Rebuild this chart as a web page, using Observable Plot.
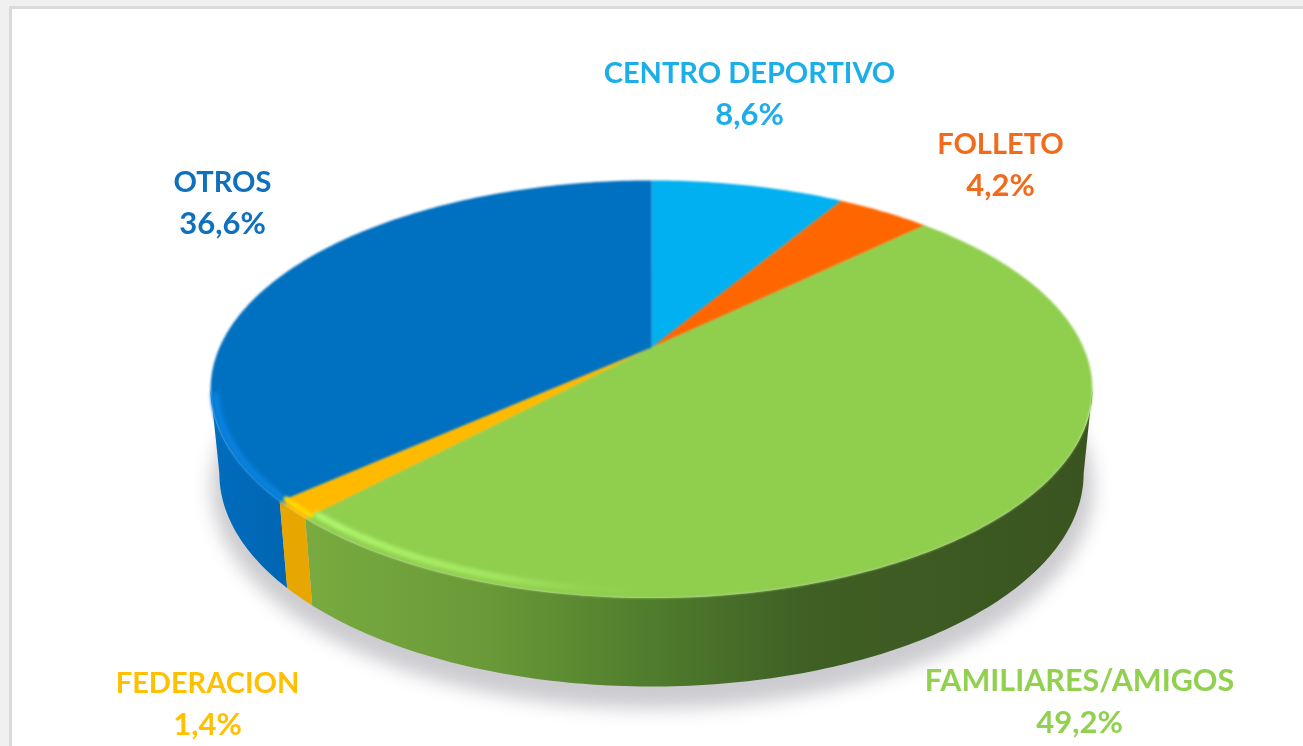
<!DOCTYPE html>
<html lang="es">
<head>
<meta charset="utf-8">
<script src="https://cdn.jsdelivr.net/npm/d3@7"></script>
<script src="https://cdn.jsdelivr.net/npm/@observablehq/plot@0.6"></script>
<style>
html,body{margin:0;padding:0;background:#f0f0f0;overflow:hidden;width:1303px;height:746px}
#frame{position:absolute;left:9px;top:6px;right:-5px;bottom:-5px;background:#fff;border:3px solid #dadada;box-sizing:border-box}
#chart{position:absolute;left:0;top:0}
</style>
</head>
<body>
<div id="frame"></div>
<div id="chart"></div>
<script>
// Data, in clockwise order from twelve o'clock
const categories = ["CENTRO DEPORTIVO", "FOLLETO", "FAMILIARES/AMIGOS", "FEDERACION", "OTROS"];
const shares = [8.6, 4.2, 49.2, 1.4, 36.6];
const shareLabels = ["8,6%", "4,2%", "49,2%", "1,4%", "36,6%"];
const colors = ["#00B0F0", "#FF6600", "#90CF4E", "#FFBA00", "#0070C0"];
const labelColors = ["#1CAEE8", "#F26A1B", "#92D050", "#FFC000", "#0F70BE"];

// Perspective of the pie
const K = 0.2;
const topRing = {cx: 651, cy: 347, a: 432, b: 200.5};
const baseRing = {cx: 651, cy: 430.4, a: 423.4, b: 204.5};
const shadowRing = {cx: 652, cy: 442, a: 432, b: 213};
// The rim's outline turns back where cos(angle) = -K: the sides are only seen between those two turning points
const turnRight = Math.acos(-K) / (2 * Math.PI) * 100;
const turnLeft = 100 - turnRight;

function pt(ring, pct, r = 1) {
  const t = pct / 100 * 2 * Math.PI, u = r * Math.sin(t), v = -r * Math.cos(t), w = 1 - K * v;
  return {x: ring.cx + ring.a * u / w, y: ring.cy + ring.b * v / w};
}
function arc(ring, p0, p1, r = 1) {
  const out = [], n = Math.max(2, Math.ceil(Math.abs(p1 - p0) * 4));
  for (let i = 0; i <= n; ++i) out.push(pt(ring, p0 + (p1 - p0) * i / n, r));
  return out;
}

const starts = d3.cumsum([0, ...shares]);
const slices = categories.map((name, i) => ({name, p0: starts[i], p1: starts[i + 1]}));
const topFaces = slices.flatMap(s => [{...pt(topRing, 0, 0), name: s.name}, ...arc(topRing, s.p0, s.p1).map(d => ({...d, name: s.name}))]);
const sideOf = name => {
  const s = slices.find(d => d.name === name);
  const p0 = Math.max(s.p0, turnRight), p1 = Math.min(s.p1, turnLeft);
  return [...arc(topRing, p0, p1), ...arc(baseRing, p1, p0)];
};

const labelAnchors = {
  "CENTRO DEPORTIVO": [749, 73], "FOLLETO": [1000, 144], "FAMILIARES/AMIGOS": [1079, 681],
  "FEDERACION": [207, 683], "OTROS": [222, 182]
};
const LINE = 42;
const labels = categories.map((name, i) => ({name, pct: shareLabels[i], x: labelAnchors[name][0], y: labelAnchors[name][1]}));

function defs() {
  const svgNS = "http://www.w3.org/2000/svg";
  const d = document.createElementNS(svgNS, "defs");
  const grad = (id, x1, x2, stops) => {
    const g = document.createElementNS(svgNS, "linearGradient");
    g.setAttribute("id", id); g.setAttribute("gradientUnits", "userSpaceOnUse");
    g.setAttribute("x1", x1); g.setAttribute("x2", x2); g.setAttribute("y1", 0); g.setAttribute("y2", 0);
    stops.forEach(([o, c, a]) => {
      const s = document.createElementNS(svgNS, "stop");
      s.setAttribute("offset", o); s.setAttribute("stop-color", c);
      if (a !== undefined) s.setAttribute("stop-opacity", a);
      g.appendChild(s);
    });
    d.appendChild(g);
  };
  grad("greenSide", 310, 1090, [[0, "#78aa40"], [0.22, "#6a9a38"], [0.44, "#4f7c2d"], [0.64, "#3f5f24"], [1, "#3a5420"]]);
  grad("blueSide", 209, 300, [[0, "#006dbd"], [1, "#0064b0"]]);
  grad("greenGlow", 312, 650, [[0, "#b4fa72", 1], [0.55, "#a8ee66", 0.85], [1, "#92D050", 0]]);
  return d;
}

const fam = slices[2], fed = slices[3], otr = slices[4];
const textStyle = {fontFamily: "Lato", fontWeight: 700, textAnchor: "middle", lineAnchor: "middle", imageFilter: "blur(0.4px)"};
const nameSize = d => d.name === "FAMILIARES/AMIGOS" ? 30.5 : 29;

const chart = Plot.plot({
  width: 1303, height: 746,
  margin: 0,
  style: {background: "transparent"},
  x: {domain: [0, 1303], range: [0, 1303], axis: null},
  y: {domain: [0, 746], range: [0, 746], axis: null},
  color: {domain: categories, range: colors},
  marks: [
    defs,
    Plot.line(arc(shadowRing, 0, 100), {x: "x", y: "y", fill: "#9a9aa2", stroke: "none", fillOpacity: 0.5, imageFilter: "blur(9px)"}),
    Plot.line(sideOf("OTROS"), {x: "x", y: "y", fill: "url(#blueSide)", stroke: "none", imageFilter: "blur(0.5px)"}),
    Plot.line(sideOf("FAMILIARES/AMIGOS"), {x: "x", y: "y", fill: "url(#greenSide)", stroke: "none", imageFilter: "blur(0.5px)"}),
    Plot.line(sideOf("FEDERACION"), {x: "x", y: "y", fill: "#E8A600", stroke: "none", imageFilter: "blur(0.5px)"}),
    Plot.line(topFaces, {x: "x", y: "y", z: "name", fill: "name", stroke: "none", imageFilter: "blur(1.2px)"}),
    Plot.line(arc(topRing, otr.p0, turnLeft - 0.5, 0.99), {x: "x", y: "y", stroke: "#0A84E2", strokeWidth: 7, imageFilter: "blur(2.5px)"}),
    Plot.line(arc(topRing, fed.p0, fed.p1, 0.985), {x: "x", y: "y", stroke: "#FFD800", strokeWidth: 5, imageFilter: "blur(1.5px)"}),
    Plot.line(arc(topRing, fam.p1 - 0.1, fam.p1 - 12.5, 0.975), {x: "x", y: "y", stroke: "url(#greenGlow)", strokeWidth: 6, imageFilter: "blur(2px)"}),
    Plot.text(labels, {...textStyle, fontSize: nameSize, x: "x", y: "y", text: "name", fill: d => labelColors[categories.indexOf(d.name)]}),
    Plot.text(labels, {...textStyle, fontSize: 31, x: "x", y: d => d.y + LINE, text: "pct", fill: d => labelColors[categories.indexOf(d.name)]})
  ]
});
document.getElementById("chart").appendChild(chart);
</script>
</body>
</html>
